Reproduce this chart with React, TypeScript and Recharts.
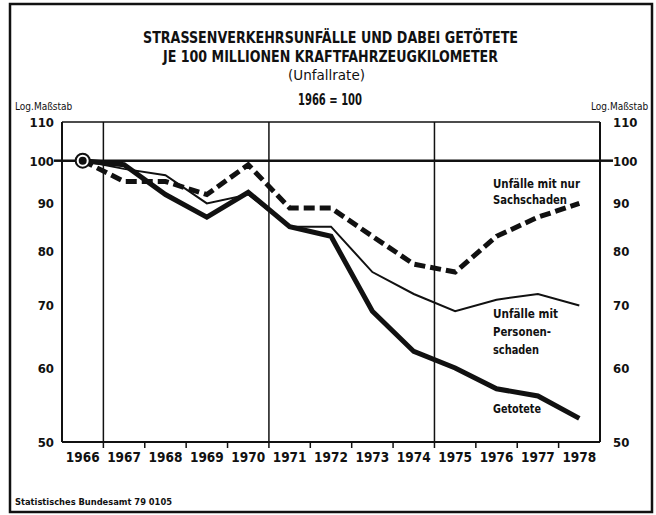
import { CartesianGrid, Line, LineChart, ReferenceLine, XAxis, YAxis } from 'recharts'

const YEARS = [1966, 1967, 1968, 1969, 1970, 1971, 1972, 1973, 1974, 1975, 1976, 1977, 1978]
const SACHSCHADEN = [100, 95, 95, 92, 99, 89, 89, 83, 77.5, 76, 83, 87, 90]
const PERSONENSCHADEN = [100, 98, 96.5, 90, 92, 85, 85, 76, 72, 69, 71, 72, 70]
const GETOETETE = [100, 99, 92, 87, 92.5, 85, 83, 69, 62.5, 60, 57, 56, 53]
const Y_TICKS = [50, 60, 70, 80, 90, 100, 110]
const X_TICKS = [1966, 1966.5, 1967, 1967.5, 1968, 1968.5, 1969, 1969.5, 1970, 1970.5, 1971, 1971.5, 1972, 1972.5, 1973, 1973.5, 1974, 1974.5, 1975, 1975.5, 1976, 1976.5, 1977, 1977.5, 1978]
const V_LINES = [1966.5, 1970.5, 1974.5]

const data = YEARS.map((year, i) => ({
  year,
  sach: SACHSCHADEN[i],
  personen: PERSONENSCHADEN[i],
  tote: GETOETETE[i],
}))

const FONT = "'DejaVu Sans Condensed', 'Liberation Sans Narrow', 'Roboto Condensed', 'Liberation Sans', sans-serif"
const INK = '#111'

function LeftTick({ x, y, payload }: any) {
  return (
    <g>
      <text x={x} y={y} dy={5} textAnchor="end" fontFamily={FONT} fontStretch="condensed" fontWeight="bold" fontSize={13} fill={INK}>
        {payload.value}
      </text>
      {payload.value === 100 && <line x1={x} x2={x + 9} y1={y} y2={y} stroke={INK} strokeWidth={2.5} />}
    </g>
  )
}

function RightTick({ x, y, payload }: any) {
  return (
    <g>
      <text x={x} y={y} dy={5} textAnchor="start" fontFamily={FONT} fontStretch="condensed" fontWeight="bold" fontSize={13} fill={INK}>
        {payload.value}
      </text>
      {payload.value === 100 && <line x1={x - 13} x2={x} y1={y} y2={y} stroke={INK} strokeWidth={2.5} />}
    </g>
  )
}

function YearTick({ x, y, payload }: any) {
  const half = payload.value % 1 !== 0
  if (half) return <line x1={x} x2={x} y1={y - 8} y2={y - 2} stroke={INK} strokeWidth={1.5} />
  return (
    <text x={x} y={y} dy={12} textAnchor="middle" fontFamily={FONT} fontStretch="condensed" fontWeight="bold" fontSize={13.5} fill={INK}>
      {payload.value}
    </text>
  )
}

function StartDot({ cx, cy, index }: any) {
  if (index !== 0) return <g key={`d${index}`} />
  return (
    <g key="start">
      <circle cx={cx} cy={cy} r={7} fill="#fff" stroke={INK} strokeWidth={2} />
      <circle cx={cx} cy={cy} r={4} fill={INK} />
    </g>
  )
}

export default function App() {
  const textStyle = { fontFamily: FONT, fontStretch: 'condensed' as const, fill: INK }
  const note = { fontSize: 13, fontWeight: 'bold' as const, lengthAdjust: 'spacingAndGlyphs', ...textStyle }
  return (
    <div style={{ position: 'absolute', left: 0, top: 0, width: 656, height: 515, background: '#fff' }}>
      <LineChart width={656} height={515} data={data} margin={{ top: 122, right: 0, bottom: 0, left: 0 }}>
        <CartesianGrid vertical={false} stroke={INK} strokeWidth={1.5} />
        <XAxis
          dataKey="year"
          type="number"
          domain={[1965.5, 1978.5]}
          ticks={X_TICKS}
          interval={0}
          height={73}
          axisLine={{ stroke: INK, strokeWidth: 2 }}
          tickLine={false}
          tickSize={0}
          tickMargin={8}
          tick={<YearTick />}
        />
        <YAxis
          yAxisId="left"
          scale="log"
          domain={[50, 110]}
          ticks={Y_TICKS}
          interval={0}
          width={62}
          axisLine={{ stroke: INK, strokeWidth: 2 }}
          tickLine={false}
          tickSize={0}
          tickMargin={8}
          tick={<LeftTick />}
          allowDataOverflow
        />
        <YAxis
          yAxisId="right"
          orientation="right"
          scale="log"
          domain={[50, 110]}
          ticks={Y_TICKS}
          interval={0}
          width={56}
          axisLine={{ stroke: INK, strokeWidth: 2 }}
          tickLine={false}
          tickSize={0}
          tickMargin={13}
          tick={<RightTick />}
          allowDataOverflow
        />
        {V_LINES.map(v => (
          <ReferenceLine key={v} yAxisId="left" x={v} stroke={INK} strokeWidth={1.5} />
        ))}
        <ReferenceLine yAxisId="left" y={100} stroke={INK} strokeWidth={2.5} />
        <Line yAxisId="left" dataKey="sach" stroke={INK} strokeWidth={5} strokeDasharray="11 5" dot={false} isAnimationActive={false} strokeLinejoin="miter" />
        <Line yAxisId="left" dataKey="personen" stroke={INK} strokeWidth={2} dot={false} isAnimationActive={false} />
        <Line yAxisId="left" dataKey="tote" stroke={INK} strokeWidth={5} dot={<StartDot />} isAnimationActive={false} />
      </LineChart>
      <svg width={656} height={515} style={{ position: 'absolute', left: 0, top: 0, pointerEvents: 'none' }}>
        <rect x={10} y={4} width={642} height={508} fill="none" stroke={INK} strokeWidth={2.5} />
        <text x={143} y={43} textLength={375} lengthAdjust="spacingAndGlyphs" fontSize={16} fontWeight="bold" {...textStyle}>
          STRASSENVERKEHRSUNFÄLLE UND DABEI GETÖTETE
        </text>
        <text x={163} y={62} textLength={335} lengthAdjust="spacingAndGlyphs" fontSize={16} fontWeight="bold" {...textStyle}>
          JE 100 MILLIONEN KRAFTFAHRZEUGKILOMETER
        </text>
        <text x={288} y={80} textLength={77} lengthAdjust="spacingAndGlyphs" fontSize={14} {...textStyle}>
          (Unfallrate)
        </text>
        <text x={298} y={105} textLength={64} lengthAdjust="spacingAndGlyphs" fontSize={15} fontWeight="bold" {...textStyle}>
          1966 = 100
        </text>
        <text x={15} y={110} fontSize={10} {...textStyle}>Log.Maßstab</text>
        <text x={591} y={110} fontSize={10} {...textStyle}>Log.Maßstab</text>
        <text x={493} y={188} textLength={87} {...note}>Unfälle mit nur</text>
        <text x={493} y={204} textLength={74} {...note}>Sachschaden</text>
        <text x={493} y={318} textLength={65} {...note}>Unfälle mit</text>
        <text x={493} y={336} textLength={58} {...note}>Personen-</text>
        <text x={493} y={354} textLength={46} {...note}>schaden</text>
        <text x={493} y={413} textLength={48} {...note}>Getotete</text>
        <text x={15} y={505} textLength={157} lengthAdjust="spacingAndGlyphs" fontSize={9.5} fontWeight="bold" {...textStyle}>Statistisches Bundesamt 79 0105</text>
      </svg>
    </div>
  )
}
